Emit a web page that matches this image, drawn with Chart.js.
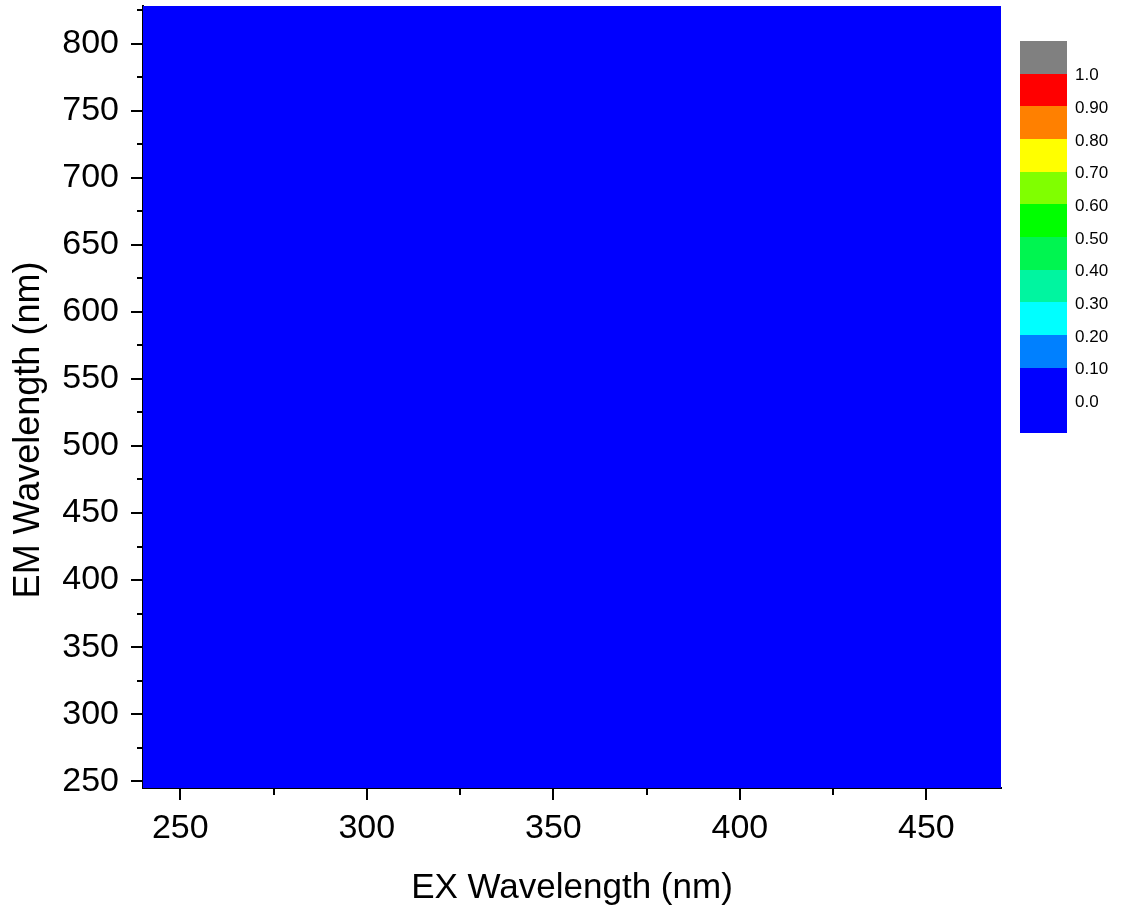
<!DOCTYPE html>
<html>
<head>
<meta charset="utf-8">
<script src="https://cdn.jsdelivr.net/npm/chart.js@4.4.1/dist/chart.umd.min.js"></script>
<style>
html,body{margin:0;padding:0;background:#fff;}
#wrap{width:1121px;height:909px;position:relative;}
</style>
</head>
<body>
<div id="wrap"><canvas id="c" width="1121" height="909"></canvas></div>
<script>
// ---- data ----
const exEdges = [240, 300, 360, 420, 470];          // EX wavelength cell edges (nm)
const emEdges = [245, 400, 550, 700, 828];          // EM wavelength cell edges (nm)
const intensity = [                                 // rows: EM (bottom->top), cols: EX
  [0, 0, 0, 0],
  [0, 0, 0, 0],
  [0, 0, 0, 0],
  [0, 0, 0, 0]
];
const exTicks = [250, 275, 300, 325, 350, 375, 400, 425, 450];
const emTicks = [250, 275, 300, 325, 350, 375, 400, 425, 450, 475, 500, 525, 550, 575, 600, 625, 650, 675, 700, 725, 750, 775, 800, 825];
const levelBounds = [-0.1, 0.1, 0.2, 0.3, 0.4, 0.5, 0.6, 0.7, 0.8, 0.9, 1.0, 1.1];
const levelColors = ['#0000FF', '#0080FF', '#00FFFF', '#00F5A0', '#00F550', '#00FF00', '#80FF00', '#FFFF00', '#FF8000', '#FF0000', '#808080'];
const cbarLabelValues = [0, 0.1, 0.2, 0.3, 0.4, 0.5, 0.6, 0.7, 0.8, 0.9, 1.0];
const cbarLabels = ['0.0', '0.10', '0.20', '0.30', '0.40', '0.50', '0.60', '0.70', '0.80', '0.90', '1.0'];
const xTitle = 'EX Wavelength (nm)';
const yTitle = 'EM Wavelength (nm)';

const FONT = "'Liberation Sans', Arial, sans-serif";

function colorFor(v){
  for (let k = 0; k < levelColors.length; k++){
    if (v >= levelBounds[k] && v < levelBounds[k+1]) return levelColors[k];
  }
  return v < levelBounds[0] ? levelColors[0] : levelColors[levelColors.length-1];
}

const heatPlugin = {
  id: 'heat',
  beforeDatasetsDraw(chart){
    const {ctx, scales:{x, y}} = chart;
    ctx.save();
    for (let i = 0; i < intensity.length; i++){
      for (let j = 0; j < intensity[i].length; j++){
        const x0 = Math.floor(x.getPixelForValue(exEdges[j]));
        const x1 = Math.ceil(x.getPixelForValue(exEdges[j+1]));
        const y0 = Math.floor(y.getPixelForValue(emEdges[i+1]));
        const y1 = Math.ceil(y.getPixelForValue(emEdges[i]));
        ctx.fillStyle = colorFor(intensity[i][j]);
        ctx.fillRect(x0, y0, x1 - x0, y1 - y0);
      }
    }
    ctx.restore();
  },
  afterDraw(chart){
    const {ctx, scales:{x, y}, chartArea} = chart;
    ctx.save();
    ctx.strokeStyle = '#000';
    ctx.lineWidth = 2;
    // y ticks
    y.ticks.forEach(t => {
      const py = Math.round(y.getPixelForValue(t.value));
      const len = (t.value % 50 === 0) ? 12 : 6;
      ctx.beginPath();
      ctx.moveTo(chartArea.left, py);
      ctx.lineTo(chartArea.left - len, py);
      ctx.stroke();
    });
    // x ticks
    x.ticks.forEach(t => {
      const px = Math.round(x.getPixelForValue(t.value));
      const len = (t.value % 50 === 0) ? 12 : 7;
      ctx.beginPath();
      ctx.moveTo(px, chartArea.bottom);
      ctx.lineTo(px, chartArea.bottom + len);
      ctx.stroke();
    });
    // y title
    ctx.fillStyle = '#000';
    ctx.font = '36px ' + FONT;
    ctx.textAlign = 'center';
    ctx.textBaseline = 'middle';
    ctx.translate(29, 430);
    ctx.rotate(-Math.PI / 2);
    ctx.fillText(yTitle, 0, 0);
    ctx.setTransform(1, 0, 0, 1, 0, 0);
    // colour bar
    const cbLeft = 1020, cbRight = 1067, cbTop = 41, cbBottom = 433;
    const vMin = levelBounds[0], vMax = levelBounds[levelBounds.length-1];
    const toY = v => cbBottom - (v - vMin) / (vMax - vMin) * (cbBottom - cbTop);
    for (let k = 0; k < levelColors.length; k++){
      const ya = Math.round(toY(levelBounds[k+1]));
      const yb = Math.round(toY(levelBounds[k]));
      ctx.fillStyle = levelColors[k];
      ctx.fillRect(cbLeft, ya, cbRight - cbLeft, yb - ya);
    }
    ctx.fillStyle = '#000';
    ctx.font = '17px ' + FONT;
    ctx.textAlign = 'left';
    ctx.textBaseline = 'middle';
    cbarLabelValues.forEach((v, k) => {
      ctx.fillText(cbarLabels[k], 1075, toY(v) + 2);
    });
    ctx.restore();
  }
};

new Chart(document.getElementById('c'), {
  type: 'scatter',
  data: { datasets: [{ label: 'intensity', data: [], showLine: false }] },
  plugins: [heatPlugin],
  options: {
    responsive: false,
    animation: false,
    devicePixelRatio: 1,
    layout: { padding: { top: 6, right: 120, left: 0, bottom: 0 } },
    plugins: { legend: { display: false }, tooltip: { enabled: false } },
    scales: {
      x: {
        type: 'linear', min: 240, max: 470,
        afterBuildTicks: s => { s.ticks = exTicks.map(v => ({ value: v })); },
        afterFit: s => { s.height = 121; s.paddingLeft = 0; s.paddingRight = 0; },
        grid: { display: false, drawTicks: false },
        border: { display: true, color: '#000', width: 2 },
        ticks: {
          color: '#000', padding: 20, maxRotation: 0, autoSkip: false,
          font: { family: FONT, size: 34 },
          callback: v => (v % 50 === 0 ? String(v) : '')
        },
        title: { display: true, text: xTitle, color: '#000', font: { family: FONT, size: 35 }, padding: { top: 8, bottom: 0 } }
      },
      y: {
        type: 'linear', min: 245, max: 828,
        afterBuildTicks: s => { s.ticks = emTicks.map(v => ({ value: v })); },
        afterFit: s => { s.width = 143; s.paddingTop = 0; s.paddingBottom = 0; },
        grid: { display: false, drawTicks: false },
        border: { display: true, color: '#000', width: 2 },
        ticks: {
          color: '#000', padding: 24, autoSkip: false,
          font: { family: FONT, size: 34 },
          callback: v => (v % 50 === 0 ? String(v) : '')
        },
        title: { display: false }
      }
    }
  }
});
</script>
</body>
</html>
